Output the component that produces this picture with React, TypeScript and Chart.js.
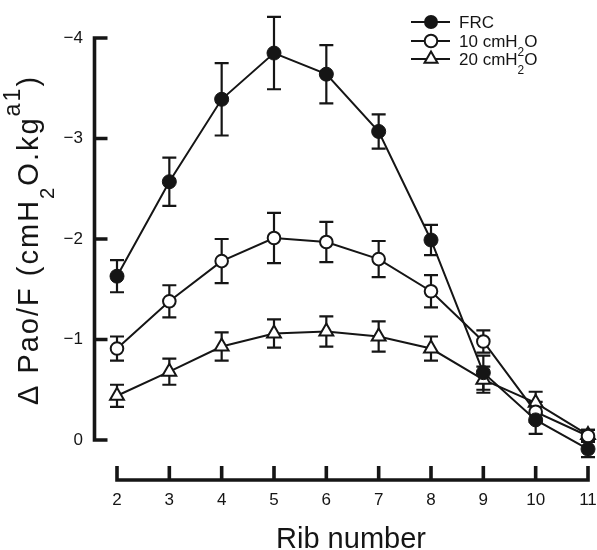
import React, { useEffect, useRef } from "react";
import { Chart, registerables } from "chart.js";

Chart.register(...registerables);

// ---- data ----
const ribs = [2, 3, 4, 5, 6, 7, 8, 9, 10, 11];
const frcValues = [-1.63, -2.57, -3.39, -3.85, -3.64, -3.07, -1.99, -0.67, -0.2, 0.09];
const frcErrors = [0.16, 0.24, 0.36, 0.36, 0.29, 0.17, 0.15, 0.17, 0.14, 0.08];
const cm10Values = [-0.91, -1.38, -1.78, -2.01, -1.97, -1.8, -1.48, -0.98, -0.28, -0.04];
const cm10Errors = [0.12, 0.16, 0.22, 0.25, 0.2, 0.18, 0.16, 0.11, 0.1, 0.06];
const cm20Values = [-0.44, -0.68, -0.93, -1.06, -1.08, -1.03, -0.91, -0.6, -0.37, -0.05];
const cm20Errors = [0.11, 0.13, 0.14, 0.14, 0.15, 0.15, 0.12, 0.13, 0.11, 0.05];
const yTickValues = [-4, -3, -2, -1, 0];
const xTitle = "Rib number";
// rich text pieces: [text, kind] kind: n = normal, sub, sup
const yTitleParts: [string, string][] = [
  ["Δ Pao/F (cmH", "n"],
  ["2", "sub"],
  ["O.kg", "n"],
  ["a1", "sup"],
  [")", "n"],
];
const legendParts: [string, string][][] = [
  [["FRC", "n"]],
  [["10 cmH", "n"], ["2", "sub"], ["O", "n"]],
  [["20 cmH", "n"], ["2", "sub"], ["O", "n"]],
];
const seriesNames = ["FRC", "10 cmH₂O", "20 cmH₂O"];

// ---- layout constants (pixel frame of the plot) ----
const FRAME = { xFirst: 117, xLast: 588, yTop: 38, yZero: 440 };

const INK = "#151515";
const FONT = "'Liberation Sans', Arial, Helvetica, sans-serif";

function drawMarker(ctx: CanvasRenderingContext2D, kind: string, x: number, y: number) {
  ctx.save();
  ctx.strokeStyle = INK;
  ctx.lineWidth = 2;
  ctx.beginPath();
  if (kind === "filled") {
    ctx.arc(x, y, 7, 0, Math.PI * 2);
    ctx.fillStyle = INK;
    ctx.fill();
  } else if (kind === "open") {
    ctx.arc(x, y, 6.3, 0, Math.PI * 2);
    ctx.fillStyle = "#fff";
    ctx.fill();
    ctx.stroke();
  } else {
    const r = 7.5;
    for (let k = 0; k < 3; k++) {
      const a = (k * 2 * Math.PI) / 3;
      const px = x + Math.sin(a) * r;
      const py = y - Math.cos(a) * r;
      if (k === 0) ctx.moveTo(px, py);
      else ctx.lineTo(px, py);
    }
    ctx.closePath();
    ctx.fillStyle = "#fff";
    ctx.fill();
    ctx.stroke();
  }
  ctx.restore();
}

function drawRich(
  ctx: CanvasRenderingContext2D,
  parts: [string, string][],
  size: number,
  x0: number,
  y0: number,
  center: boolean,
  spacing: number
) {
  const spec = (kind: string) =>
    kind === "sub" ? { s: 0.7, dy: 0.55 } : kind === "sup" ? { s: 0.8, dy: -0.62 } : { s: 1, dy: 0 };
  (ctx as any).letterSpacing = spacing + "px";
  let total = 0;
  const widths = parts.map(([t, k]) => {
    ctx.font = `${size * spec(k).s}px ${FONT}`;
    const w = ctx.measureText(t).width;
    total += w;
    return w;
  });
  let x = center ? x0 - total / 2 : x0;
  parts.forEach(([t, k], i) => {
    const sp = spec(k);
    ctx.font = `${size * sp.s}px ${FONT}`;
    ctx.fillText(t, x, y0 + sp.dy * size);
    x += widths[i];
  });
  (ctx as any).letterSpacing = "0px";
}

// Fit the value ranges of both scales to the plot frame once the layout is known.
const framePlugin = {
  id: "frame",
  afterLayout(chart: any) {
    const xs = chart.scales.x;
    const ys = chart.scales.y;
    const xFirst = ribs[0];
    const xLast = ribs[ribs.length - 1];
    const ppx = (FRAME.xLast - FRAME.xFirst) / (xLast - xFirst);
    xs.min = xFirst - (FRAME.xFirst - xs.left) / ppx;
    xs.max = xLast + (xs.right - FRAME.xLast) / ppx;
    xs.configure();
    const yLo = yTickValues[0];
    const yHi = yTickValues[yTickValues.length - 1];
    const ppy = (FRAME.yZero - FRAME.yTop) / (yHi - yLo);
    ys.min = yLo - (FRAME.yTop - ys.top) / ppy;
    ys.max = yHi + (ys.bottom - FRAME.yZero) / ppy;
    ys.configure();
  },
};

const errorBarPlugin = {
  id: "errorBars",
  beforeDatasetsDraw(chart: any) {
    const ctx = chart.ctx as CanvasRenderingContext2D;
    const ys = chart.scales.y;
    ctx.save();
    ctx.strokeStyle = INK;
    ctx.lineWidth = 2.2;
    chart.data.datasets.forEach((ds: any, i: number) => {
      const meta = chart.getDatasetMeta(i);
      meta.data.forEach((pt: any, j: number) => {
        const v = ds.data[j].y;
        const e = ds.errors[j];
        const yt = ys.getPixelForValue(v - e);
        const yb = ys.getPixelForValue(v + e);
        const x = pt.x;
        ctx.beginPath();
        ctx.moveTo(x, yt);
        ctx.lineTo(x, yb);
        ctx.moveTo(x - 7, yt);
        ctx.lineTo(x + 7, yt);
        ctx.moveTo(x - 7, yb);
        ctx.lineTo(x + 7, yb);
        ctx.stroke();
      });
    });
    ctx.restore();
  },
};

const axesPlugin = {
  id: "customAxes",
  beforeDatasetsDraw(chart: any) {
    const ctx = chart.ctx as CanvasRenderingContext2D;
    const xs = chart.scales.x;
    const ys = chart.scales.y;
    const area = chart.chartArea;
    ctx.save();
    ctx.strokeStyle = INK;
    ctx.lineWidth = 3.6;
    ctx.lineJoin = "miter";
    ctx.lineCap = "butt";
    // y axis
    const ax = area.left + 0.5;
    const yTop = ys.getPixelForValue(yTickValues[0]);
    const yBot = ys.getPixelForValue(yTickValues[yTickValues.length - 1]);
    ctx.beginPath();
    ctx.moveTo(ax + 13, yTop);
    ctx.lineTo(ax, yTop);
    ctx.lineTo(ax, yBot);
    ctx.lineTo(ax + 13, yBot);
    yTickValues.slice(1, -1).forEach((v) => {
      const p = ys.getPixelForValue(v);
      ctx.moveTo(ax, p);
      ctx.lineTo(ax + 13, p);
    });
    ctx.stroke();
    // x axis
    const by = area.bottom;
    const x1 = xs.getPixelForValue(ribs[0]);
    const x2 = xs.getPixelForValue(ribs[ribs.length - 1]);
    ctx.beginPath();
    ctx.moveTo(x1, by - 14);
    ctx.lineTo(x1, by);
    ctx.lineTo(x2, by);
    ctx.lineTo(x2, by - 14);
    ribs.slice(1, -1).forEach((r) => {
      const p = xs.getPixelForValue(r);
      ctx.moveTo(p, by);
      ctx.lineTo(p, by - 14);
    });
    ctx.stroke();
    ctx.restore();
  },
  afterDraw(chart: any) {
    const ctx = chart.ctx as CanvasRenderingContext2D;
    // x title
    ctx.save();
    ctx.fillStyle = INK;
    ctx.textAlign = "center";
    ctx.textBaseline = "alphabetic";
    ctx.font = `29px ${FONT}`;
    ctx.fillText(xTitle, 351, 548);
    ctx.restore();

    // y title rotated
    ctx.save();
    ctx.fillStyle = INK;
    ctx.textAlign = "left";
    ctx.textBaseline = "alphabetic";
    ctx.translate(38, 240);
    ctx.rotate(-Math.PI / 2);
    drawRich(ctx, yTitleParts, 29, 0, 0, true, 2);
    ctx.restore();

    // legend
    const kinds = ["filled", "open", "tri"];
    const rows = [22, 41, 59];
    ctx.save();
    ctx.fillStyle = INK;
    ctx.textAlign = "left";
    rows.forEach((ry, i) => {
      ctx.strokeStyle = INK;
      ctx.lineWidth = 2;
      ctx.beginPath();
      ctx.moveTo(411, ry);
      ctx.lineTo(450, ry);
      ctx.stroke();
      drawMarker(ctx, kinds[i], 431, ry);
      ctx.textBaseline = "alphabetic";
      drawRich(ctx, legendParts[i], 17, 459, ry + 6, false, 0);
    });
    ctx.restore();
  },
};

export default function App() {
  const ref = useRef<HTMLCanvasElement | null>(null);

  useEffect(() => {
    if (!ref.current) return;
    Chart.defaults.font.family = FONT;
    Chart.defaults.color = INK;
    const mk = (i: number, values: number[], errors: number[], style: any) => ({
      label: seriesNames[i],
      data: ribs.map((x, j) => ({ x, y: values[j] })),
      errors,
      borderColor: INK,
      borderWidth: 2,
      tension: 0,
      fill: false,
      clip: false,
      pointBorderColor: INK,
      ...style,
    });
    const chart = new Chart(ref.current, {
      type: "line",
      data: {
        datasets: [
          mk(0, frcValues, frcErrors, {
            pointStyle: "circle",
            pointRadius: 7,
            pointBackgroundColor: INK,
            pointBorderWidth: 1,
          }),
          mk(1, cm10Values, cm10Errors, {
            pointStyle: "circle",
            pointRadius: 6.3,
            pointBackgroundColor: "#fff",
            pointBorderWidth: 2,
          }),
          mk(2, cm20Values, cm20Errors, {
            pointStyle: "triangle",
            pointRadius: 8,
            pointBackgroundColor: "#fff",
            pointBorderWidth: 2,
          }),
        ] as any,
      },
      options: {
        responsive: false,
        maintainAspectRatio: false,
        animation: false,
        events: [],
        layout: { padding: 0 },
        plugins: {
          legend: { display: false },
          title: { display: false },
          tooltip: { enabled: false },
        },
        scales: {
          x: {
            type: "linear",
            min: 1.5605,
            max: 11.172,
            afterBuildTicks: (s: any) => {
              s.ticks = ribs.map((v) => ({ value: v }));
            },
            afterFit: (s: any) => {
              s.height = 70;
            },
            grid: { display: false, drawTicks: false },
            border: { display: false },
            ticks: {
              padding: 10,
              color: INK,
              autoSkip: false,
              maxRotation: 0,
              font: { size: 17, family: FONT },
              callback: (v: any) => String(v),
            },
            title: { display: false },
          },
          y: {
            type: "linear",
            reverse: true,
            min: -4.378,
            max: 0.398,
            afterBuildTicks: (s: any) => {
              s.ticks = yTickValues.map((v) => ({ value: v }));
            },
            afterFit: (s: any) => {
              s.width = 94;
            },
            grid: { display: false, drawTicks: false },
            border: { display: false },
            ticks: {
              padding: 11,
              color: INK,
              font: { size: 17, family: FONT },
              callback: (v: any) => (Number(v) === 0 ? "0" : "−" + Math.abs(Number(v))),
            },
          },
        },
      } as any,
      plugins: [framePlugin, errorBarPlugin, axesPlugin],
    });
    return () => chart.destroy();
  }, []);

  return (
    <div style={{ position: "absolute", left: 0, top: 0, width: 597, height: 550, background: "#fff" }}>
      <canvas ref={ref} width={597} height={550} style={{ display: "block" }} />
    </div>
  );
}
